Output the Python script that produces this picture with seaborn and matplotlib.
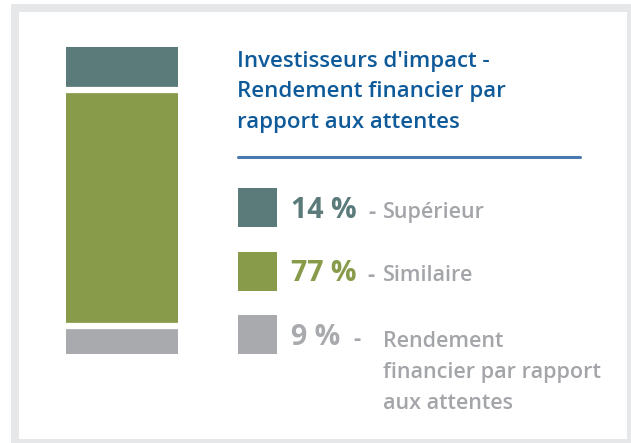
import numpy as np
import pandas as pd
import matplotlib
matplotlib.use("Agg")
import matplotlib.pyplot as plt
from matplotlib.patches import Rectangle
import seaborn as sns

# data (bottom -> top of the stacked bar)
categories = ["Rendement financier par rapport aux attentes", "Similaire", "Supérieur"]
shares = [9, 77, 14]
colors = ["#a9aaad", "#879b4a", "#5a7b7a"]

# legend rows (top -> bottom)
legend_pct = ["14 %", "77 %", "9 %"]
legend_desc = [["Supérieur"], ["Similaire"],
               ["Rendement", "financier par rapport", "aux attentes"]]
legend_col = ["#5a7b7a", "#879b4a", "#a9aaad"]
title_lines = ["Investisseurs d'impact -", "Rendement financier par", "rapport aux attentes"]

W, H = 631, 443
sns.set_theme(style="white")
plt.rcParams["font.family"] = ["Open Sans", "DejaVu Sans"]

fig = plt.figure(figsize=(W / 100, H / 100), dpi=100)


def fx(x):
    return x / W


def fy(y):
    return 1 - y / H


# frame
fig.patches.append(Rectangle((fx(11), fy(443)), fx(620), 439 / H, transform=fig.transFigure,
                             facecolor="#e6e7e9", edgecolor="none", zorder=-3))
fig.patches.append(Rectangle((fx(19), fy(439)), fx(608), 427 / H, transform=fig.transFigure,
                             facecolor="white", edgecolor="none", zorder=-2))

# stacked bar, drawn back to front with cumulative heights
ax = fig.add_axes([fx(52), fy(354), fx(140), 307 / H])
ax.set_zorder(2)
ax.patch.set_alpha(0)
cum = np.cumsum(shares)
df = pd.DataFrame({"x": ["a"] * 3, "top": cum, "cat": categories})
for i in range(len(shares) - 1, -1, -1):
    sns.barplot(data=df.iloc[[i]], x="x", y="top", color=colors[i], width=0.8,
                saturation=1, linewidth=0, ax=ax)
# white gaps between the segments
for b in cum[:-1]:
    ax.axhline(b, color="white", linewidth=4.5)
ax.set_xlim(-0.5, 0.5)
ax.set_ylim(0, 100)
ax.set_axis_off()

# title and rule
for k, line in enumerate(title_lines):
    fig.text(fx(237), fy(67 + 30.5 * k), line, color="#0f5a99", fontsize=16,
             fontweight="semibold", va="baseline", ha="left")
fig.lines.append(plt.Line2D([fx(238), fx(580)], [fy(157), fy(157)], transform=fig.transFigure,
                            color="#4a79b0", linewidth=2.2))

# legend
sq_top = [188, 252, 315]
base = [218, 281, 345]
dash_x = [368, 367, 353]
for i in range(3):
    fig.patches.append(Rectangle((fx(238), fy(sq_top[i] + 39)), fx(39), 39 / H,
                                 transform=fig.transFigure, facecolor=legend_col[i],
                                 edgecolor="none"))
    fig.text(fx(291), fy(base[i]), legend_pct[i], color=legend_col[i], fontsize=20.5,
             fontweight="bold", va="baseline")
    fig.text(fx(dash_x[i]), fy(base[i]), "-", color="#a3a5a9", fontsize=16,
             fontweight="bold", va="baseline")
    for k, line in enumerate(legend_desc[i]):
        fig.text(fx(383), fy(base[i] + (2 if i == 2 else 0) + 31 * k), line, color="#a3a5a9",
                 fontsize=15.5, fontweight="semibold", va="baseline")

fig.savefig("out.png", dpi=100)
